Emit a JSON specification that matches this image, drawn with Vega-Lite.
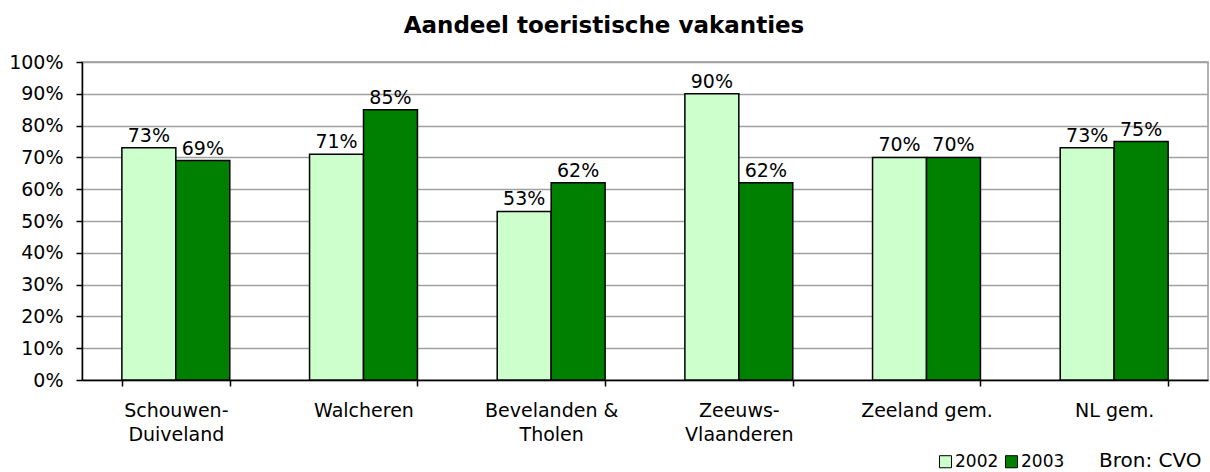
{
  "$schema": "https://vega.github.io/schema/vega-lite/v6.json",
  "width": 1126,
  "height": 318,
  "autosize": {"type": "none"},
  "padding": {"left": 82, "top": 62, "right": 2, "bottom": 92},
  "title": {"text": "Aandeel toeristische vakanties", "font": "DejaVu Sans", "fontSize": 23, "fontWeight": "bold", "offset": 15, "dx": -41, "anchor": "middle", "color": "black"},
  "config": {"view": {"stroke": "#999999", "strokeWidth": 1.5}, "font": "DejaVu Sans"},
  "data": {"values": [
    {"region": "Schouwen-\nDuiveland", "year": "2002", "value": 0.73},
    {"region": "Schouwen-\nDuiveland", "year": "2003", "value": 0.69},
    {"region": "Walcheren", "year": "2002", "value": 0.71},
    {"region": "Walcheren", "year": "2003", "value": 0.85},
    {"region": "Bevelanden &\nTholen", "year": "2002", "value": 0.53},
    {"region": "Bevelanden &\nTholen", "year": "2003", "value": 0.62},
    {"region": "Zeeuws-\nVlaanderen", "year": "2002", "value": 0.90},
    {"region": "Zeeuws-\nVlaanderen", "year": "2003", "value": 0.62},
    {"region": "Zeeland gem.", "year": "2002", "value": 0.70},
    {"region": "Zeeland gem.", "year": "2003", "value": 0.70},
    {"region": "NL gem.", "year": "2002", "value": 0.73},
    {"region": "NL gem.", "year": "2003", "value": 0.75}
  ]},
  "encoding": {
    "x": {"field": "region", "type": "nominal", "sort": null,
      "scale": {"paddingInner": 0.425, "paddingOuter": 0.2125},
      "axis": {"title": null, "labelAngle": 0, "tickBand": "extent", "ticks": true, "tickSize": 6, "tickColor": "black", "domainColor": "black", "domainWidth": 1.5, "tickWidth": 1.5, "labelFontSize": 19, "labelColor": "black", "labelPadding": 15, "labelLineHeight": 24, "labelExpr": "split(datum.label, '\\n')", "grid": false}},
    "xOffset": {"field": "year", "type": "nominal"},
    "y": {"field": "value", "type": "quantitative",
      "scale": {"domain": [0, 1]},
      "axis": {"title": null, "values": [0, 0.1, 0.2, 0.3, 0.4, 0.5, 0.6, 0.7, 0.8, 0.9, 1], "tickCount": 11, "labelOverlap": false, "format": ".0%", "grid": true, "gridColor": "#a0a0a0", "gridWidth": 1.5, "tickSize": 6, "tickColor": "black", "tickWidth": 1.5, "domainColor": "black", "domainWidth": 1.5, "labelFontSize": 19, "labelColor": "black", "labelPadding": 13}}
  },
  "layer": [
    {
      "mark": {"type": "bar", "stroke": "black", "strokeWidth": 1.5},
      "encoding": {
        "color": {"field": "year", "type": "nominal",
          "scale": {"domain": ["2002", "2003"], "range": ["#CCFFCC", "#008000"]},
          "legend": {"orient": "none", "legendX": 855, "legendY": 391, "direction": "horizontal", "symbolType": "square", "symbolSize": 145, "symbolStrokeColor": "black", "symbolStrokeWidth": 1, "labelFontSize": 17, "labelColor": "black", "labelOffset": 1, "columnPadding": 4, "title": "Bron: CVO", "titleOrient": "right", "titleFontWeight": "normal", "titleFontSize": 20, "titleColor": "black", "titlePadding": 35}}
      }
    },
    {
      "mark": {"type": "text", "baseline": "alphabetic", "dy": -6, "fontSize": 19, "color": "black"},
      "encoding": {
        "text": {"field": "value", "type": "quantitative", "format": ".0%"}
      }
    }
  ]
}
